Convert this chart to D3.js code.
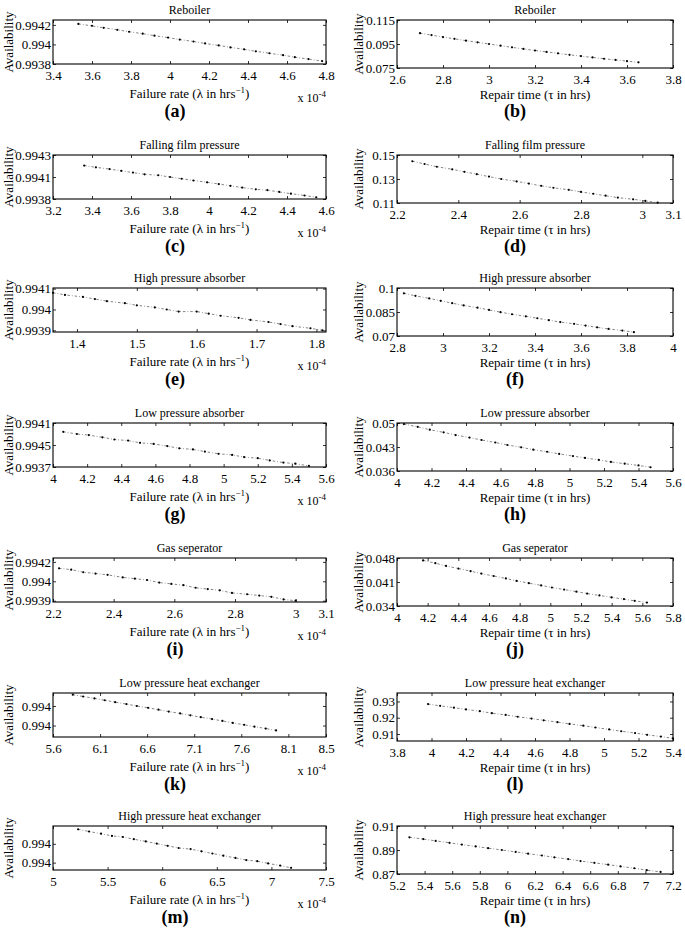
<!DOCTYPE html>
<html>
<head>
<meta charset="utf-8">
<script src="https://cdn.jsdelivr.net/npm/d3@7"></script>
<style>
  body { margin: 0; background: #fff; }
  svg { display: block; }
  text { font-family: "Liberation Serif", "Times New Roman", serif; fill: #000; }
</style>
</head>
<body>
<div id="chart"></div>
<script>
// panel texts
const titles = ["Reboiler", "Reboiler", "Falling film pressure", "Falling film pressure",
  "High pressure absorber", "High pressure absorber", "Low pressure absorber", "Low pressure absorber",
  "Gas seperator", "Gas seperator", "Low pressure heat exchanger", "Low pressure heat exchanger",
  "High pressure heat exchanger", "High pressure heat exchanger"];
const letters = ["(a)", "(b)", "(c)", "(d)", "(e)", "(f)", "(g)", "(h)", "(i)", "(j)", "(k)", "(l)", "(m)", "(n)"];

// series values (x = failure rate x 10^-4 or repair time, y = availability)
const aX = [3.53, 3.60, 3.66, 3.73, 3.79, 3.86, 3.92, 3.99, 4.05, 4.12, 4.18, 4.25, 4.31, 4.38, 4.44, 4.51, 4.58, 4.64, 4.71, 4.78];
const aY = [0.99421, 0.99419, 0.99417, 0.99415, 0.99413, 0.99411, 0.99409, 0.99407, 0.99405, 0.99403, 0.99401, 0.99399, 0.99397, 0.99395, 0.99393, 0.99391, 0.99389, 0.99387, 0.99385, 0.99383];
const bX = [2.70, 2.75, 2.80, 2.85, 2.90, 2.95, 3.00, 3.05, 3.10, 3.15, 3.20, 3.25, 3.30, 3.35, 3.40, 3.45, 3.50, 3.55, 3.60, 3.65];
const bY = [0.1040, 0.1024, 0.1008, 0.0993, 0.0978, 0.0964, 0.0950, 0.0936, 0.0922, 0.0909, 0.0896, 0.0884, 0.0872, 0.0860, 0.0849, 0.0838, 0.0827, 0.0817, 0.0807, 0.0797];
const cX = [3.36, 3.42, 3.49, 3.55, 3.61, 3.67, 3.74, 3.80, 3.86, 3.92, 3.99, 4.05, 4.11, 4.17, 4.24, 4.30, 4.36, 4.42, 4.49, 4.55];
const cY = [0.99418, 0.99416, 0.99414, 0.99412, 0.99410, 0.99408, 0.99407, 0.99405, 0.99403, 0.99401, 0.99399, 0.99397, 0.99395, 0.99393, 0.99391, 0.99390, 0.99388, 0.99386, 0.99384, 0.99382];
const dX = [2.25, 2.29, 2.33, 2.38, 2.42, 2.46, 2.50, 2.54, 2.59, 2.63, 2.67, 2.71, 2.76, 2.80, 2.84, 2.88, 2.92, 2.97, 3.01, 3.05];
const dY = [0.1448, 0.1425, 0.1402, 0.1381, 0.1360, 0.1340, 0.1320, 0.1300, 0.1280, 0.1262, 0.1243, 0.1227, 0.1210, 0.1192, 0.1177, 0.1161, 0.1145, 0.1131, 0.1117, 0.1103];
const eX = [1.36, 1.38, 1.41, 1.43, 1.45, 1.48, 1.50, 1.53, 1.55, 1.57, 1.60, 1.62, 1.64, 1.67, 1.69, 1.72, 1.74, 1.76, 1.79, 1.81];
const eY = [0.99408, 0.99407, 0.99406, 0.99405, 0.99404, 0.99403, 0.99402, 0.99401, 0.99400, 0.99399, 0.99399, 0.99398, 0.99397, 0.99396, 0.99395, 0.99394, 0.99393, 0.99392, 0.99391, 0.99390];
const fX = [2.83, 2.88, 2.94, 2.99, 3.04, 3.09, 3.15, 3.20, 3.25, 3.30, 3.36, 3.41, 3.46, 3.51, 3.57, 3.62, 3.67, 3.72, 3.78, 3.83];
const fY = [0.0967, 0.0951, 0.0935, 0.0920, 0.0905, 0.0891, 0.0877, 0.0863, 0.0849, 0.0836, 0.0823, 0.0811, 0.0799, 0.0787, 0.0776, 0.0765, 0.0754, 0.0744, 0.0734, 0.0724];
const gX = [4.06, 4.14, 4.21, 4.29, 4.36, 4.44, 4.51, 4.59, 4.67, 4.74, 4.82, 4.89, 4.97, 5.05, 5.12, 5.20, 5.27, 5.35, 5.42, 5.50];
const gY = [0.99402, 0.99400, 0.99399, 0.99397, 0.99395, 0.99394, 0.99392, 0.99391, 0.99389, 0.99387, 0.99386, 0.99384, 0.99382, 0.99381, 0.99379, 0.99378, 0.99376, 0.99374, 0.99373, 0.99371];
const hX = [4.04, 4.12, 4.19, 4.27, 4.34, 4.42, 4.49, 4.57, 4.64, 4.72, 4.79, 4.87, 4.94, 5.02, 5.09, 5.17, 5.24, 5.32, 5.40, 5.47];
const hY = [0.0497, 0.04887, 0.04804, 0.04727, 0.04649, 0.04576, 0.04504, 0.04431, 0.04358, 0.04291, 0.04223, 0.04161, 0.04099, 0.04036, 0.0398, 0.03923, 0.03865, 0.03813, 0.03762, 0.0371];
const iX = [2.22, 2.26, 2.30, 2.34, 2.38, 2.43, 2.47, 2.51, 2.55, 2.59, 2.63, 2.67, 2.71, 2.75, 2.79, 2.84, 2.88, 2.92, 2.96, 3.00];
const iY = [0.99413, 0.99412, 0.99410, 0.99409, 0.99408, 0.99406, 0.99405, 0.99404, 0.99402, 0.99401, 0.99400, 0.99398, 0.99397, 0.99396, 0.99394, 0.99393, 0.99392, 0.99391, 0.99389, 0.99388];
const jX = [4.17, 4.25, 4.32, 4.40, 4.48, 4.55, 4.63, 4.71, 4.78, 4.86, 4.94, 5.01, 5.09, 5.17, 5.24, 5.32, 5.40, 5.48, 5.55, 5.63];
const jY = [0.0473, 0.04649, 0.04568, 0.04493, 0.04416, 0.04345, 0.04275, 0.04204, 0.04132, 0.04067, 0.04001, 0.0394, 0.0388, 0.03819, 0.03763, 0.03708, 0.03651, 0.03601, 0.0355, 0.035];
const kX = [5.81, 5.92, 6.04, 6.15, 6.26, 6.38, 6.49, 6.61, 6.72, 6.83, 6.95, 7.06, 7.17, 7.29, 7.40, 7.51, 7.63, 7.74, 7.86, 7.97];
const kY = [0.994185, 0.994168, 0.994151, 0.994134, 0.994117, 0.994099, 0.994082, 0.994065, 0.994048, 0.994031, 0.994014, 0.993997, 0.993980, 0.993963, 0.993946, 0.993928, 0.993911, 0.993894, 0.993877, 0.993860];
const lX = [3.98, 4.05, 4.13, 4.20, 4.28, 4.35, 4.43, 4.50, 4.58, 4.65, 4.73, 4.80, 4.88, 4.95, 5.03, 5.10, 5.18, 5.25, 5.33, 5.40];
const lY = [0.9284, 0.9273, 0.9262, 0.9251, 0.9240, 0.9228, 0.9217, 0.9206, 0.9195, 0.9184, 0.9173, 0.9162, 0.9151, 0.9140, 0.9128, 0.9117, 0.9106, 0.9095, 0.9084, 0.9073];
const mX = [5.23, 5.33, 5.44, 5.54, 5.64, 5.74, 5.85, 5.95, 6.05, 6.15, 6.26, 6.36, 6.46, 6.56, 6.67, 6.77, 6.87, 6.97, 7.08, 7.18];
const mY = [0.99417, 0.99415, 0.99413, 0.99411, 0.99410, 0.99408, 0.99406, 0.99404, 0.99402, 0.99400, 0.99399, 0.99397, 0.99395, 0.99393, 0.99391, 0.99389, 0.99388, 0.99386, 0.99384, 0.99382];
const nX = [5.29, 5.39, 5.48, 5.58, 5.67, 5.77, 5.86, 5.96, 6.06, 6.15, 6.25, 6.34, 6.44, 6.53, 6.63, 6.73, 6.82, 6.92, 7.01, 7.11];
const nY = [0.9006, 0.8991, 0.8976, 0.8960, 0.8945, 0.8930, 0.8915, 0.8900, 0.8884, 0.8869, 0.8854, 0.8839, 0.8824, 0.8808, 0.8793, 0.8778, 0.8763, 0.8748, 0.8732, 0.8717];

const seriesX = [aX, bX, cX, dX, eX, fX, gX, hX, iX, jX, kX, lX, mX, nX];
const seriesY = [aY, bY, cY, dY, eY, fY, gY, hY, iY, jY, kY, lY, mY, nY];

// axis limits and ticks
const xLims = [[3.4, 4.8], [2.6, 3.8], [3.2, 4.6], [2.2, 3.1], [1.36, 1.816], [2.8, 4], [4, 5.6],
  [4, 5.6], [2.2, 3.1], [4, 5.8], [5.6, 8.5], [3.8, 5.4], [5, 7.5], [5.2, 7.2]];
const xTicks = [
  [3.4, 3.6, 3.8, 4, 4.2, 4.4, 4.6, 4.8],
  [2.6, 2.8, 3, 3.2, 3.4, 3.6, 3.8],
  [3.2, 3.4, 3.6, 3.8, 4, 4.2, 4.4, 4.6],
  [2.2, 2.4, 2.6, 2.8, 3, 3.1],
  [1.4, 1.5, 1.6, 1.7, 1.8],
  [2.8, 3, 3.2, 3.4, 3.6, 3.8, 4],
  [4, 4.2, 4.4, 4.6, 4.8, 5, 5.2, 5.4, 5.6],
  [4, 4.2, 4.4, 4.6, 4.8, 5, 5.2, 5.4, 5.6],
  [2.2, 2.4, 2.6, 2.8, 3, 3.1],
  [4, 4.2, 4.4, 4.6, 4.8, 5, 5.2, 5.4, 5.6, 5.8],
  [5.6, 6.1, 6.6, 7.1, 7.6, 8.1, 8.5],
  [3.8, 4, 4.2, 4.4, 4.6, 4.8, 5, 5.2, 5.4],
  [5, 5.5, 6, 6.5, 7, 7.5],
  [5.2, 5.4, 5.6, 5.8, 6, 6.2, 6.4, 6.6, 6.8, 7, 7.2]
];
const yLims = [[0.9938, 0.99425], [0.075, 0.115], [0.9938, 0.9943], [0.11, 0.15], [0.993892, 0.994103],
  [0.07, 0.1], [0.9937, 0.9941], [0.036, 0.05], [0.99387, 0.99421], [0.034, 0.048],
  [0.9938, 0.9942], [0.9057, 0.9352], [0.9938, 0.9942], [0.87, 0.91]];
const yTicks = [
  [0.9938, 0.994, 0.9942], [0.075, 0.095, 0.115], [0.9938, 0.99405, 0.9943], [0.11, 0.13, 0.15],
  [0.9939, 0.994, 0.9941], [0.07, 0.085, 0.1], [0.9937, 0.9939, 0.9941], [0.036, 0.043, 0.05],
  [0.99388, 0.99403, 0.99418], [0.034, 0.041, 0.048], [0.993904, 0.994082], [0.91, 0.92, 0.93],
  [0.993867, 0.994038], [0.87, 0.89, 0.91]
];
const yTickLabels = [
  ["0.9938", "0.994", "0.9942"], ["0.075", "0.095", "0.115"], ["0.9938", "0.9941", "0.9943"], ["0.11", "0.13", "0.15"],
  ["0.9939", "0.994", "0.9941"], ["0.07", "0.085", "0.1"], ["0.9937", "0.9945", "0.9941"], ["0.036", "0.043", "0.05"],
  ["0.9939", "0.994", "0.9942"], ["0.034", "0.041", "0.048"], ["0.994", "0.994"], ["0.91", "0.92", "0.93"],
  ["0.994", "0.994"], ["0.87", "0.89", "0.91"]
];

const largura = 685, altura = 931;
const rowTop = [20, 155, 288, 423, 558, 693, 826];
const colunas = [
  { x0: 53, x1: 326, h: 44, letraX: 175, yLabelX: 13, xLabelDy: 34, padX: 7 },
  { x0: 397, x1: 673, h: 48, letraX: 515, yLabelX: 363, xLabelDy: 31, padX: 7 }
];

const svg = d3.select("#chart").append("svg")
  .attr("width", largura)
  .attr("height", altura)
  .style("background", "#fff");

titles.forEach((titulo, i) => {
  const col = colunas[i % 2];
  const top = rowTop[Math.floor(i / 2)];
  const bottom = top + col.h;
  const isFailure = i % 2 === 0;

  const x = d3.scaleLinear().domain(xLims[i]).range([col.x0, col.x1]);
  const y = d3.scaleLinear().domain(yLims[i]).range([bottom, top]);
  const g = svg.append("g");

  // eixos (ticks para dentro, espelhados em cima e à direita)
  const labelsY = yTickLabels[i];
  g.append("g")
    .attr("transform", `translate(0,${bottom})`)
    .call(d3.axisBottom(x).tickValues(xTicks[i]).tickSize(-3).tickPadding(col.padX).tickFormat(d => String(d)))
    .call(a => a.select(".domain").remove());
  g.append("g")
    .attr("transform", `translate(${col.x0},0)`)
    .call(d3.axisLeft(y).tickValues(yTicks[i]).tickSize(-3).tickPadding(2)
      .tickFormat((d, k) => labelsY[k]))
    .call(a => a.select(".domain").remove());
  g.append("g")
    .attr("transform", `translate(0,${top})`)
    .call(d3.axisTop(x).tickValues(xTicks[i]).tickSize(-3).tickFormat(""))
    .call(a => a.select(".domain").remove());
  g.append("g")
    .attr("transform", `translate(${col.x1},0)`)
    .call(d3.axisRight(y).tickValues(yTicks[i]).tickSize(-3).tickFormat(""))
    .call(a => a.select(".domain").remove());

  g.selectAll(".tick line").attr("stroke", "#000").attr("stroke-width", 0.8);
  g.selectAll(".tick text")
    .style("font-family", '"Liberation Serif", serif')
    .style("font-size", "13px")
    .attr("fill", "#000");

  // caixa
  g.append("rect")
    .attr("x", col.x0)
    .attr("y", top)
    .attr("width", col.x1 - col.x0)
    .attr("height", col.h)
    .attr("fill", "none")
    .attr("stroke", "#000")
    .attr("stroke-width", 1.1);

  // série (traço-ponto com marcadores)
  const pontos = d3.zip(seriesX[i], seriesY[i]);
  g.append("path")
    .datum(pontos)
    .attr("fill", "none")
    .attr("stroke", "#333")
    .attr("stroke-width", 0.6)
    .attr("stroke-dasharray", "2.5,2,0.8,2")
    .attr("d", d3.line().x(d => x(d[0])).y(d => y(d[1])));
  g.selectAll("circle.pt")
    .data(pontos)
    .enter()
    .append("circle")
    .attr("class", "pt")
    .attr("cx", d => x(d[0]))
    .attr("cy", d => y(d[1]))
    .attr("r", 1.1)
    .attr("fill", "#000");

  // título
  g.append("text")
    .attr("x", (col.x0 + col.x1) / 2)
    .attr("y", top - 6)
    .attr("text-anchor", "middle")
    .style("font-size", "12px")
    .text(titulo);

  // rótulo do eixo y
  g.append("text")
    .attr("transform", `translate(${col.yLabelX},${(top + bottom) / 2}) rotate(-90)`)
    .attr("text-anchor", "middle")
    .style("font-size", "13px")
    .text("Availability");

  // rótulo do eixo x
  const xl = g.append("text")
    .attr("x", (col.x0 + col.x1) / 2)
    .attr("y", bottom + col.xLabelDy)
    .attr("text-anchor", "middle")
    .style("font-size", "13px");
  if (isFailure) {
    xl.append("tspan").text("Failure rate (λ in hrs");
    xl.append("tspan").attr("dy", -5).style("font-size", "9px").text("−1");
    xl.append("tspan").attr("dy", 5).text(")");

    const mult = g.append("text")
      .attr("x", col.x1)
      .attr("y", bottom + 38)
      .attr("text-anchor", "end")
      .style("font-size", "12px");
    mult.append("tspan").text("x 10");
    mult.append("tspan").attr("dy", -5).style("font-size", "9px").text("-4");
  } else {
    xl.text("Repair time (τ in hrs)");
  }

  // letra do painel
  g.append("text")
    .attr("x", col.letraX)
    .attr("y", top + 97)
    .attr("text-anchor", "middle")
    .style("font-size", "18px")
    .style("font-weight", "bold")
    .text(letters[i]);
});
</script>
</body>
</html>
